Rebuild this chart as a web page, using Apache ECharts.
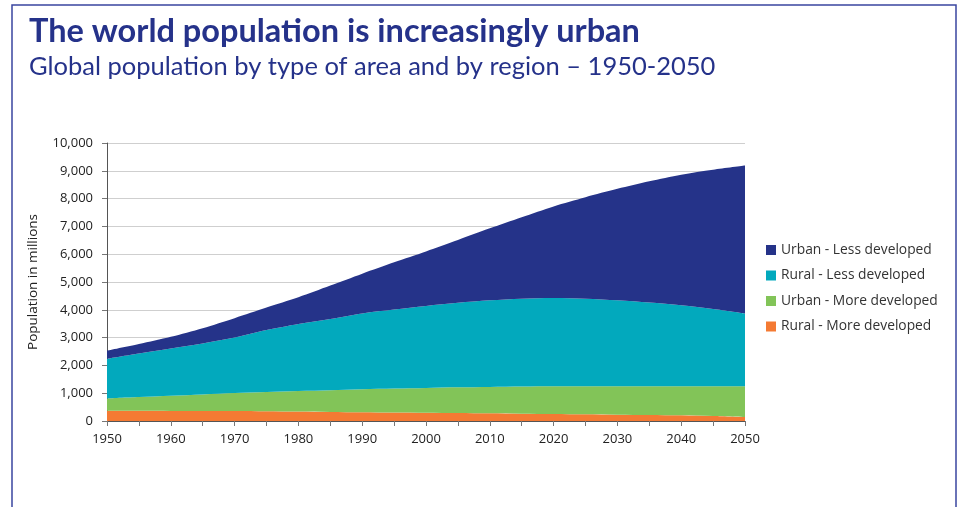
<!DOCTYPE html>
<html>
<head>
<meta charset="utf-8">
<style>
  html, body { margin: 0; padding: 0; background: #ffffff; }
  #chart { width: 962px; height: 507px; }
</style>
<script src="https://cdn.jsdelivr.net/npm/echarts@6/dist/echarts.min.js"></script>
</head>
<body>
<div id="chart"></div>
<script>
// Years on the horizontal axis (5-year steps)
var years = ['1950','1955','1960','1965','1970','1975','1980','1985','1990','1995','2000',
             '2005','2010','2015','2020','2025','2030','2035','2040','2045','2050'];

// Population in millions, per group
var ruralMoreDeveloped = [372, 368, 364, 362, 360, 350, 338, 328, 318, 308, 300,
                          288, 276, 264, 252, 240, 228, 216, 204, 178, 144];
var urbanMoreDeveloped = [438, 492, 541, 593, 645, 695, 742, 782, 822, 857, 890,
                          922, 949, 976, 996, 1010, 1022, 1034, 1046, 1072, 1106];
var ruralLessDeveloped = [1430, 1570, 1705, 1835, 1995, 2225, 2410, 2560, 2730, 2845, 2950,
                          3040, 3115, 3160, 3177, 3150, 3090, 3010, 2910, 2780, 2620];
var urbanLessDeveloped = [290, 340, 420, 550, 700, 810, 960, 1200, 1430, 1700, 1960,
                          2260, 2590, 2930, 3295, 3650, 4010, 4360, 4700, 5010, 5320];

var seriesNames = ['Urban - Less developed', 'Rural - Less developed',
                   'Urban - More developed', 'Rural - More developed'];

var navy = '#25328a';
var titleFont = 'Lato, "Open Sans", sans-serif';
var bodyFont = '"Open Sans", "Noto Sans", sans-serif';

function areaSeries(name, data, color) {
  return {
    name: name,
    type: 'line',
    stack: 'population',
    data: data,
    smooth: 0.3,
    symbol: 'none',
    lineStyle: { width: 0 },
    areaStyle: { color: color, opacity: 1 },
    itemStyle: { color: color },
    emphasis: { disabled: true }
  };
}

var chart = echarts.init(document.getElementById('chart'), null, { renderer: 'canvas' });

chart.setOption({
  animation: false,
  backgroundColor: '#ffffff',
  textStyle: { fontFamily: bodyFont },
  title: [
    {
      text: 'The world population is increasingly urban',
      left: 24, top: 10,
      textStyle: { color: navy, fontSize: 32.5, fontWeight: 'bold', fontFamily: titleFont }
    },
    {
      text: 'Global population by type of area and by region \u2013 1950-2050',
      left: 24, top: 49,
      textStyle: { color: navy, fontSize: 25.5, fontWeight: 'normal', fontFamily: titleFont }
    }
  ],
  graphic: [
    {
      type: 'rect',
      shape: { x: 12, y: 5, width: 944, height: 530 },
      style: { fill: 'none', stroke: '#3a46a0', lineWidth: 1.5 },
      silent: true,
      z: -1
    }
  ],
  legend: {
    orient: 'vertical',
    left: 761,
    top: 238,
    icon: 'rect',
    itemWidth: 10,
    itemHeight: 10,
    itemGap: 11.5,
    data: seriesNames,
    textStyle: { color: '#333333', fontSize: 13.8, fontFamily: bodyFont },
    selectedMode: false
  },
  grid: { left: 107, right: 217, top: 143, bottom: 86, containLabel: false },
  xAxis: {
    type: 'category',
    data: years,
    boundaryGap: false,
    axisLine: { lineStyle: { color: '#555555', width: 1 } },
    axisTick: { interval: 0, length: 5, lineStyle: { color: '#777777' } },
    axisLabel: { interval: 1, color: '#222222', fontSize: 13, margin: 12, fontFamily: bodyFont },
    splitLine: { show: false }
  },
  yAxis: {
    type: 'value',
    min: 0,
    max: 10000,
    interval: 1000,
    name: 'Population in millions',
    nameLocation: 'middle',
    nameGap: 67,
    nameTextStyle: { color: '#222222', fontSize: 13.5, fontFamily: bodyFont },
    axisLine: { show: true, lineStyle: { color: '#555555', width: 1 } },
    axisTick: { show: true, length: 5, lineStyle: { color: '#777777' } },
    axisLabel: {
      color: '#222222', fontSize: 13, margin: 14, fontFamily: bodyFont,
      formatter: function (v) { return v.toLocaleString('en-US'); }
    },
    splitLine: { lineStyle: { color: '#cfcfcf', width: 1 } }
  },
  series: [
    areaSeries(seriesNames[3], ruralMoreDeveloped, '#f47a33'),
    areaSeries(seriesNames[2], urbanMoreDeveloped, '#82c458'),
    areaSeries(seriesNames[1], ruralLessDeveloped, '#02a9bd'),
    areaSeries(seriesNames[0], urbanLessDeveloped, '#253389')
  ]
});
</script>
</body>
</html>
